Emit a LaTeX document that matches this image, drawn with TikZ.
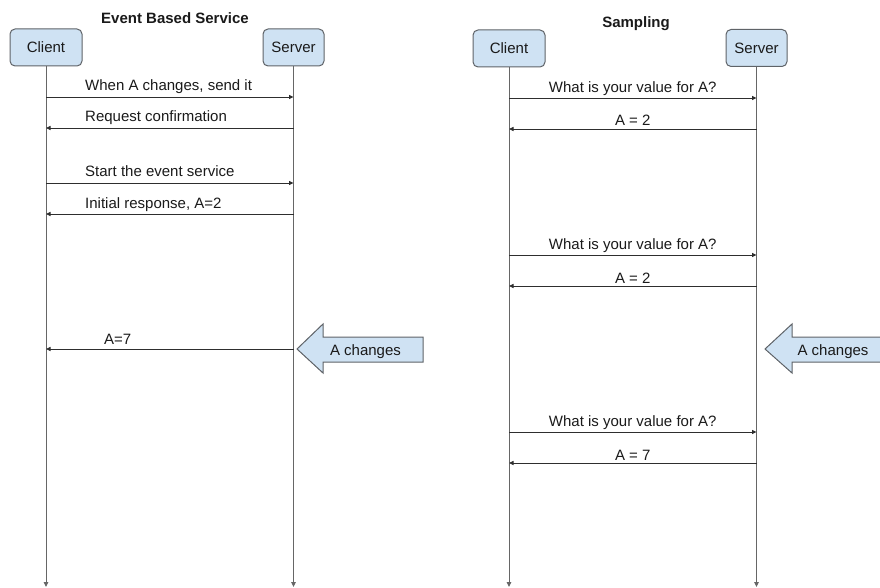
\documentclass[tikz,border=0pt]{standalone}
\usepackage{fontspec}
\setmainfont{Liberation Sans}
\usetikzlibrary{arrows.meta}
\definecolor{boxfill}{HTML}{CFE2F3}
\definecolor{boxline}{HTML}{5F6368}
\definecolor{lifeline}{HTML}{666666}
\definecolor{msgline}{HTML}{2E2E2E}
\definecolor{ink}{HTML}{1A1A1A}
\begin{document}
\begin{tikzpicture}[x=1pt,y=-1pt,
  actor/.style={draw=boxline, fill=boxfill, rounded corners=5pt, line width=1pt,
    minimum height=37pt, inner sep=0pt, text=ink, font=\fontsize{15}{18}\selectfont},
  life/.style={draw=lifeline, line width=1pt, -{Triangle[length=5pt,width=4.5pt]}},
  msg/.style={draw=msgline, line width=0.9pt, -{Triangle[length=4.5pt,width=4pt]}},
  lbl/.style={font=\fontsize{15}{18}\selectfont, inner sep=0pt, text=ink},
  titletext/.style={font=\bfseries\fontsize{15}{18}\selectfont, inner sep=0pt, text=ink},
  bigarrow/.style={draw=boxline, fill=boxfill, line width=1pt, line join=miter}
]
\clip (0,0) rectangle (880,588);

% ---------- Event based service ----------
\node[titletext, anchor=base] (lt) at (175,24) {Event Based Service};
\node[actor, minimum width=72pt] (lc) at (46,47.5) {Client};
\node[actor, minimum width=61pt] (ls) at (293.5,47.5) {Server};
\coordinate (lcEnd) at (46,587);
\coordinate (lsEnd) at (293.5,587);
\draw[life] (lc.south) -- (lcEnd);
\draw[life] (ls.south) -- (lsEnd);

\draw[msg] (lc |- 0,97) -- (ls |- 0,97);
\node[lbl, anchor=base west] (e1) at (85,91) {When A changes, send it};
\draw[msg] (ls |- 0,128) -- (lc |- 0,128);
\node[lbl, anchor=base west] (e2) at (85,122) {Request confirmation};
\draw[msg] (lc |- 0,183) -- (ls |- 0,183);
\node[lbl, anchor=base west] (e3) at (85,177) {Start the event service};
\draw[msg] (ls |- 0,214) -- (lc |- 0,214);
\node[lbl, anchor=base west] (e4) at (85,208) {Initial response, A=2};
\draw[msg] (ls |- 0,349) -- (lc |- 0,349);
\node[lbl, anchor=base west] (e5) at (104,344) {A=7};

\draw[bigarrow] (297,349) -- (323,324) -- (323,337) -- (423,337) -- (423,362)
  -- (323,362) -- (323,373) -- cycle;
\node[lbl, anchor=base] (lchg) at (365.5,355) {A changes};

% ---------- Sampling ----------
\node[titletext, anchor=base] (rt) at (636,28) {Sampling};
\node[actor, minimum width=72pt] (rc) at (509,48.5) {Client};
\node[actor, minimum width=61pt] (rs) at (756.5,48) {Server};
\coordinate (rcEnd) at (509,587);
\coordinate (rsEnd) at (756.5,587);
\draw[life] (rc.south) -- (rcEnd);
\draw[life] (rs.south) -- (rsEnd);

\foreach \q/\a/\val in {98/129/2, 255/286/2, 432/463/7}{
  \draw[msg] (rc |- 0,\q) -- (rs |- 0,\q)
    node[lbl, midway, anchor=base, yshift=5.5pt] {What is your value for A?};
  \draw[msg] (rs |- 0,\a) -- (rc |- 0,\a)
    node[lbl, midway, anchor=base, yshift=3pt] {A = \val};
}

\draw[bigarrow] (765,349) -- (792,324) -- (792,337) -- (892,337) -- (892,362)
  -- (792,362) -- (792,373) -- cycle;
\node[lbl, anchor=base] (rchg) at (833,355) {A changes};
\end{tikzpicture}
\end{document}
